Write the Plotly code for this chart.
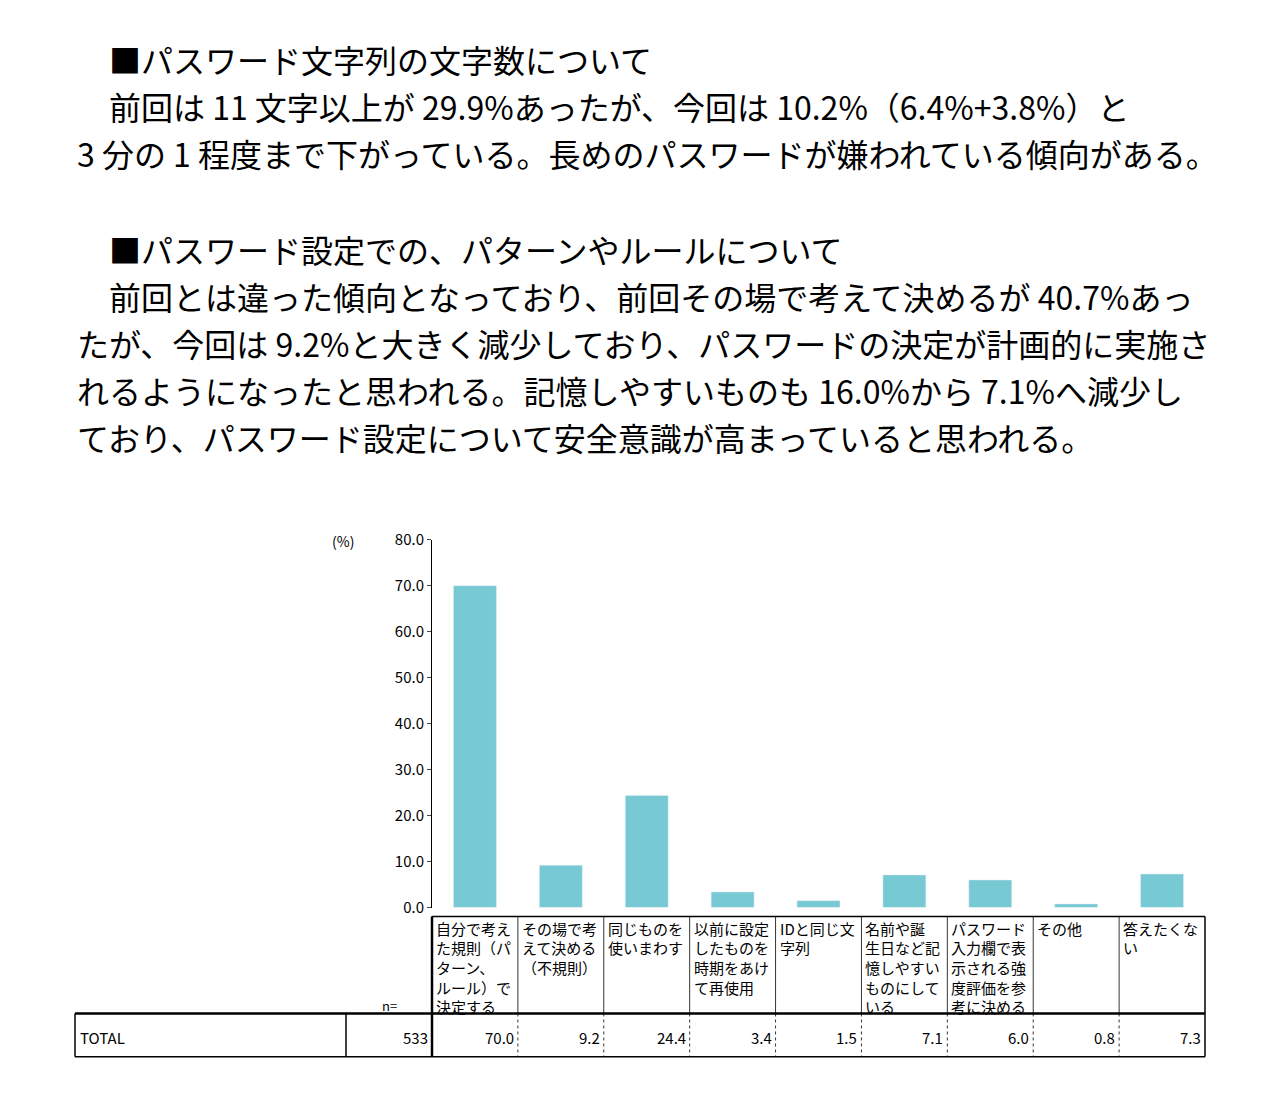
import plotly.graph_objects as go

W, H = 1288, 1106
OFF = 8
FW, FH = W - 2 * OFF, H - 2 * OFF
FONT = "Noto Sans CJK JP"

categories = [
    ["自分で考え", "た規則（パ", "ターン、", "ルール）で", "決定する"],
    ["その場で考", "えて決める", "（不規則）"],
    ["同じものを", "使いまわす"],
    ["以前に設定", "したものを", "時期をあけ", "て再使用"],
    ["IDと同じ文", "字列"],
    ["名前や誕", "生日など記", "憶しやすい", "ものにして", "いる"],
    ["パスワード", "入力欄で表", "示される強", "度評価を参", "考に決める"],
    ["その他"],
    ["答えたくな", "い"],
]
values = [70.0, 9.2, 24.4, 3.4, 1.5, 7.1, 6.0, 0.8, 7.3]
n_total = 533
row_label = "TOTAL"
y_ticks = [0, 10, 20, 30, 40, 50, 60, 70, 80]

paragraph_lines = [
    (107, 50, "■パスワード文字列の文字数について"),
    (107, 98, "前回は 11 文字以上が 29.9%あったが、今回は 10.2%（6.4%+3.8%）と"),
    (75, 146, "3 分の 1 程度まで下がっている。長めのパスワードが嫌われている傾向がある。"),
    (107, 243, "■パスワード設定での、パターンやルールについて"),
    (107, 291, "前回とは違った傾向となっており、前回その場で考えて決めるが 40.7%あっ"),
    (75, 339, "たが、今回は 9.2%と大きく減少しており、パスワードの決定が計画的に実施さ"),
    (75, 387, "れるようになったと思われる。記憶しやすいものも 16.0%から 7.1%へ減少し"),
    (75, 435, "ており、パスワード設定について安全意識が高まっていると思われる。"),
]

def px(x): return (x - OFF) / FW
def py(y): return 1 - (y - OFF) / FH

X0, X1 = 432, 1205
CW = (X1 - X0) / len(values)
Y0, Y80 = 913, 538

fig = go.Figure()
fig.add_trace(go.Bar(x=list(range(len(values))), y=values, marker_color="#77C9D4",
                     width=0.5, hoverinfo="skip"))

shapes, ann = [], []
def line(x0, y0, x1, y1, w=1, dash="solid"):
    shapes.append(dict(type="line", xref="paper", yref="paper", x0=px(x0), y0=py(y0),
                       x1=px(x1), y1=py(y1), line=dict(color="black", width=w, dash=dash)))

line(X0, 922, X1, 922, 1.5)
line(75, 1021, X1, 1021, 2.5)
line(75, 1065, X1, 1065, 1.5)
line(75, 1021, 75, 1065, 1.5)
line(346, 1021, 346, 1065, 1.5)
line(X0, 922, X0, 1065, 2.5)
line(X1, 922, X1, 1065, 1.5)
for i in range(1, len(values)):
    xc = X0 + i * CW
    line(xc, 922, xc, 1021, 0.8)
    line(xc, 1021, xc, 1065, 0.8, "dot")

def txt(t, x, y, size, anchor="left"):
    ann.append(dict(text=t, x=px(x), y=py(y), xref="paper", yref="paper", xanchor=anchor,
                    yanchor="middle", showarrow=False,
                    font=dict(family=FONT, size=size, color="black")))

for i, lab in enumerate(categories):
    xl = X0 + i * CW + 2
    for j, t in enumerate(lab):
        txt(t, xl, 934 + j * 20, 15)
    txt(f"{values[i]:.1f}", X0 + (i + 1) * CW - 2, 1045, 15, "right")
txt("n=", 380, 1013, 13)
txt(str(n_total), 430, 1045, 15, "right")
txt(row_label, 78, 1045, 15)
txt("(%)", 343, 539, 14, "center")
for x, y, t in paragraph_lines:
    txt(t, x, y - 2, 32)

fig.update_layout(
    width=FW, height=FH, margin=dict(l=0, r=0, t=0, b=0),
    paper_bgcolor="white", plot_bgcolor="white", showlegend=False,
    shapes=shapes, annotations=ann,
    xaxis=dict(domain=[px(X0), px(X1)], range=[-0.5, len(values) - 0.5], showticklabels=False,
               showgrid=False, zeroline=False, showline=False, fixedrange=True),
    yaxis=dict(domain=[py(Y0), py(Y80)], range=[0, 80], tickvals=y_ticks,
               ticktext=[f"{v:.1f}" for v in y_ticks], showgrid=False, zeroline=False,
               showline=True, linecolor="black", linewidth=1, ticks="outside", ticklen=4,
               tickfont=dict(family=FONT, size=15, color="black"), fixedrange=True),
)
fig.write_html("out.html")
